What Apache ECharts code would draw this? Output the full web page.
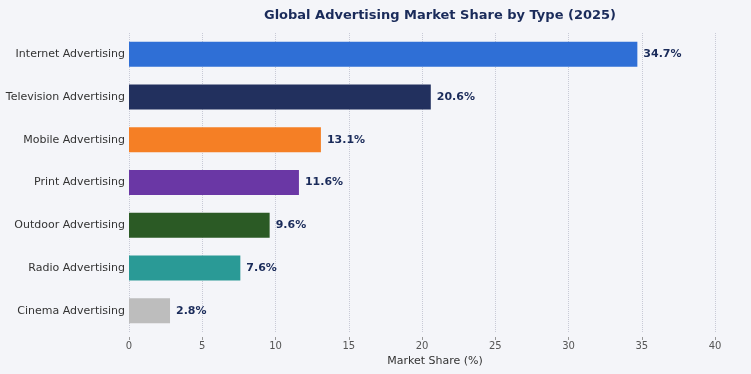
<!DOCTYPE html>
<html><head><meta charset="utf-8">
<script src="https://cdn.jsdelivr.net/npm/echarts@6/dist/echarts.min.js"></script>
<style>html,body{margin:0;padding:0;background:#f4f5f9;}#c{width:751px;height:374px;}</style>
</head><body><div id="c"></div>
<script>
const categories = ["Internet Advertising","Television Advertising","Mobile Advertising","Print Advertising","Outdoor Advertising","Radio Advertising","Cinema Advertising"];
const shares = [34.7, 20.6, 13.1, 11.6, 9.6, 7.6, 2.8];
const colors = ["#2f6fd6","#22305e","#f57f25","#6a37a5","#2b5a25","#2a9a96","#bdbdbd"];
const xTicks = [0,5,10,15,20,25,30,35,40];

const chart = echarts.init(document.getElementById('c'));
chart.setOption({
  backgroundColor: '#f4f5f9',
  animation: false,
  title: {
    text: 'Global Advertising Market Share by Type (2025)',
    left: 435, top: 4, textAlign: 'center',
    textStyle: {fontFamily: 'DejaVu Sans', fontSize: 13, fontWeight: 'bold', color: '#1a2b5a'}
  },
  grid: {left: 129, right: 36, top: 33, height: 299},
  xAxis: {
    type: 'value', min: 0, max: 40, interval: 5, offset: 5,
    name: 'Market Share (%)', nameLocation: 'middle', nameGap: 19,
    nameTextStyle: {fontFamily: 'DejaVu Sans', fontSize: 11, color: '#333', padding: [0, 0, 0, 26]},
    axisLine: {show: false},
    axisTick: {show: true, length: 3, lineStyle: {color: '#999'}},
    axisLabel: {fontFamily: 'DejaVu Sans', fontSize: 10, color: '#555', margin: 4,
      formatter: v => xTicks.includes(v) ? String(v) : ''},
    splitLine: {show: true, lineStyle: {color: '#c8cad6', type: 'dotted'}}
  },
  yAxis: {
    type: 'category', inverse: true, data: categories,
    axisLine: {show: false}, axisTick: {show: false},
    axisLabel: {fontFamily: 'DejaVu Sans', fontSize: 11, color: '#333', margin: 4}
  },
  series: [{
    type: 'bar',
    data: shares.map((v, i) => ({value: v, itemStyle: {color: colors[i]}})),
    barWidth: 25,
    label: {show: true, position: 'right', distance: 6,
      formatter: p => p.value.toFixed(1) + '%',
      fontFamily: 'DejaVu Sans', fontSize: 11, fontWeight: 'bold', color: '#1a2b5a'}
  }]
});
</script></body></html>
